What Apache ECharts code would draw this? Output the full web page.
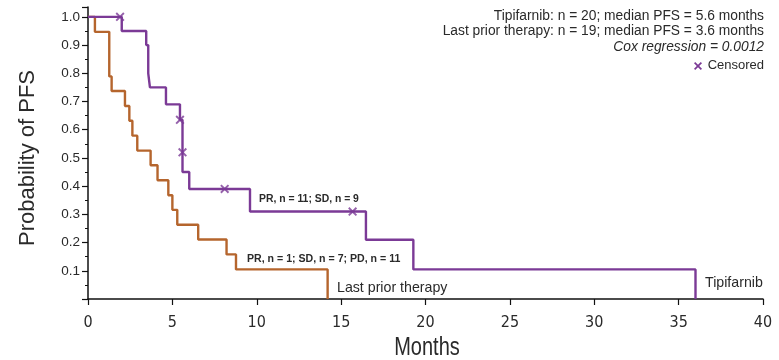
<!DOCTYPE html>
<html><head><meta charset="utf-8">
<script src="https://cdn.jsdelivr.net/npm/echarts@6/dist/echarts.min.js"></script>
<style>html,body{margin:0;padding:0;background:#fff}#c{width:779px;height:360px}</style>
</head><body><div id="c"></div>
<script>
// Data (months, probability of PFS) — step points of KM curves
const tipifarnib = [[0,1],[2.0,0.95],[3.45,0.90],[3.57,0.80],[3.67,0.75],[4.62,0.69],[5.45,0.635],[5.6,0.45],[6.0,0.39],[9.6,0.31],[16.47,0.21],[19.28,0.105],[36.0,0]];
const lastPrior = [[0,1],[0.41,0.947],[1.26,0.789],[1.40,0.737],[2.19,0.684],[2.45,0.632],[2.63,0.579],[2.92,0.526],[3.71,0.474],[4.12,0.421],[4.76,0.368],[5.0,0.316],[5.29,0.263],[6.53,0.211],[8.21,0.158],[8.77,0.105],[14.2,0]];
const censored = [[1.9,1.0],[5.45,0.635],[5.6,0.52],[8.1,0.39],[15.68,0.31]];
const xTicks = [0,5,10,15,20,25,30,35,40];
const yTicks = [0.1,0.2,0.3,0.4,0.5,0.6,0.7,0.8,0.9,1.0];

const PURPLE = '#7b3a96', ORANGE = '#b5652d', TXT = '#2a2a2a';
const XSYM = 'path://M0,1.5L1.5,0L5,3.5L8.5,0L10,1.5L6.5,5L10,8.5L8.5,10L5,6.5L1.5,10L0,8.5L3.5,5Z';
const xPts = [[0,1.5],[1.5,0],[5,3.5],[8.5,0],[10,1.5],[6.5,5],[10,8.5],[8.5,10],[5,6.5],[1.5,10],[0,8.5],[3.5,5]];
const FONT = 'Liberation Sans';
const NARROW = '"DejaVu Sans Condensed", "Liberation Sans"';
const chart = echarts.init(document.getElementById('c'));
chart.setOption({
  animation:false,
  grid:{left:88,right:16,top:7,bottom:61,outerBoundsMode:'none',containLabel:false},
  xAxis:{type:'value',min:0,max:40,interval:5,
    axisLine:{lineStyle:{color:'#111',width:1.5}},
    axisTick:{length:6,lineStyle:{color:'#111',width:1.2}},
    splitLine:{show:false},
    axisLabel:{color:TXT,fontSize:16,fontFamily:NARROW,margin:16,formatter:v=>xTicks.includes(v)?String(v):''}},
  yAxis:{type:'value',min:0,max:1.035,interval:0.1,
    axisLine:{show:true,lineStyle:{color:'#111',width:1.5}},
    axisTick:{show:true,length:6,lineStyle:{color:'#111',width:1.2}},
    minorTick:{show:true,splitNumber:2,length:3,lineStyle:{color:'#111',width:1}},
    splitLine:{show:false},
    axisLabel:{color:TXT,fontSize:13.5,fontFamily:FONT,margin:8,
      formatter:v=>{const t=yTicks.find(a=>Math.abs(a-v)<1e-6);return t!==undefined?t.toFixed(1):'';}}},
  series:[
    {type:'line',step:'end',data:lastPrior,symbol:'none',lineStyle:{color:ORANGE,width:2.4},z:3},
    {type:'line',step:'end',data:tipifarnib,symbol:'none',lineStyle:{color:PURPLE,width:2.4},z:4},
    {type:'scatter',data:censored,symbol:XSYM,symbolSize:9,itemStyle:{color:PURPLE},z:5}
  ],
  graphic:[
    {type:'text',x:427,y:348,scaleX:0.8,style:{text:'Months',fill:TXT,font:'25px '+FONT,textAlign:'center',textVerticalAlign:'middle'}},
    {type:'text',x:28,y:158,rotation:Math.PI/2,style:{text:'Probability of PFS',fill:TXT,font:'22px '+FONT,textAlign:'center',textVerticalAlign:'middle'}},
    {type:'text',right:15,top:9,style:{text:'Tipifarnib: n = 20; median PFS = 5.6 months',fill:TXT,font:'13.8px '+FONT}},
    {type:'text',right:15,top:24,style:{text:'Last prior therapy: n = 19; median PFS = 3.6 months',fill:TXT,font:'13.8px '+FONT}},
    {type:'text',right:15,top:40,style:{text:'Cox regression = 0.0012',fill:TXT,font:'italic 13.8px '+FONT}},
    {type:'text',right:15,top:59,style:{text:'Censored',fill:TXT,font:'13px '+FONT}},
    {type:'polygon',shape:{points:xPts.map(p=>[694+p[0]*0.8,62+p[1]*0.8])},style:{fill:PURPLE}},
    {type:'text',left:259,top:194,style:{text:'PR, n = 11; SD, n = 9',fill:TXT,font:'bold 10.4px '+FONT}},
    {type:'text',left:247,top:254,style:{text:'PR, n = 1; SD, n = 7; PD, n = 11',fill:TXT,font:'bold 10.6px '+FONT}},
    {type:'text',left:337,top:281,style:{text:'Last prior therapy',fill:TXT,font:'14.2px '+FONT}},
    {type:'text',left:705,top:276,style:{text:'Tipifarnib',fill:TXT,font:'14.2px '+FONT}}
  ]
});
</script></body></html>
